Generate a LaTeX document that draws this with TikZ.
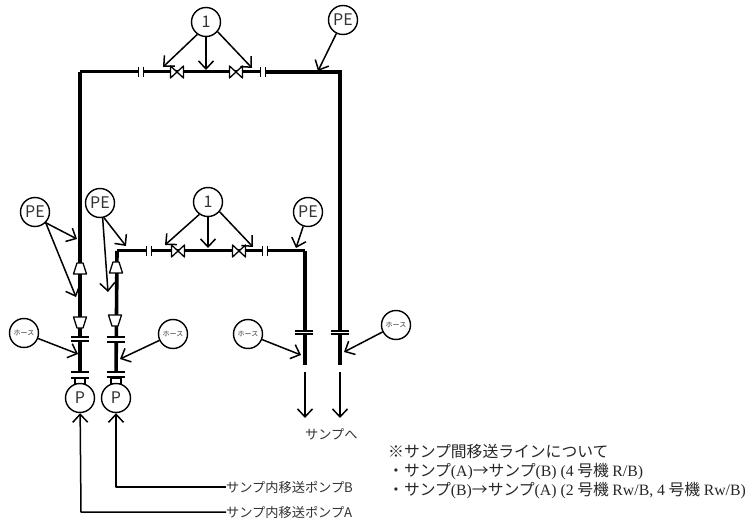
\documentclass[tikz,border=0pt]{standalone}
\usepackage{fontspec}
\setmainfont{Noto Sans CJK JP}
\newfontfamily\latinserif{Liberation Serif}
\usetikzlibrary{arrows.meta}
\tikzset{
	tag/.style={draw,circle,line width=1.4pt,fill=white,minimum size=29pt,inner sep=0pt,text=black!80},
	tagbig/.style={tag,font=\fontsize{16}{16}\selectfont},
	tagsmall/.style={tag,font=\fontsize{7}{7}\selectfont},
	barb/.tip={Straight Barb[length=8pt,width=15pt]},
	callout/.style={-barb,line width=1.5pt},
	pipe/.style={line width=3.6pt},
	pipethin/.style={line width=3pt},
	flowline/.style={line width=1.5pt},
	caption/.style={anchor=west,inner sep=0pt,text=black!80,font=\fontsize{13.2}{13}\selectfont},
	note/.style={anchor=west,inner sep=0pt,text=black!85,font=\fontsize{15.8}{16}\selectfont},
}
\newcommand{\valve}[2]{
	\draw[line width=1.3pt,fill=white,line join=round] (#1-6.5,#2-6)--(#1+6.5,#2+6)--(#1+6.5,#2-6)--(#1-6.5,#2+6)--cycle;
}
\newcommand{\flangev}[2]{
	\fill[white] (#1-2,#2-4)rectangle(#1+2,#2+4);
	\draw[line width=1.3pt] (#1-2.2,#2-5)--(#1-2.2,#2+5) (#1+2.2,#2-5)--(#1+2.2,#2+5);
}
\newcommand{\flangeh}[3]{
	\fill[white] (#1-8,#2)rectangle(#1+8,#3);
	\draw[line width=1.3pt] (#1-9,#2)--(#1+9,#2) (#1-9,#3)--(#1+9,#3);
}
\newcommand{\reducer}[4]{
	\draw[line width=1.3pt,fill=white,line join=round] (#1-#3,#2)--(#1+#3,#2)--(#1+#4,#2+11)--(#1-#4,#2+11)--cycle;
}
\begin{document}
\begin{tikzpicture}[x=1pt,y=-1pt,line join=round]
	\useasboundingbox (0,0) rectangle (752,521);
	% pipe runs
	\coordinate (topl) at (80,72);
	\coordinate (topm) at (264,72);
	\coordinate (topr) at (340,72);
	\coordinate (endr) at (340,365);
	\coordinate (pumpa) at (80,378);
	\coordinate (midl) at (117,251);
	\coordinate (midr) at (305,251);
	\coordinate (endl) at (305,365);
	\coordinate (pumpb) at (116,378);
	\draw[pipethin] (topl)--(topm);
	\draw[pipe,line join=miter] (topm)--(topr)--(endr);
	\draw[pipe] (topl)--(pumpa);
	\draw[pipethin] (midl)--(midr);
	\draw[pipe] (midr)--(endl);
	\draw[pipe] (midl)--(pumpb);
	% fittings
	\foreach \xv in {177,236} {\valve{\xv}{72}}
	\foreach \xv in {178,239} {\valve{\xv}{251}}
	\foreach \xf in {141,263} {\flangev{\xf}{72}}
	\foreach \xf in {149,265} {\flangev{\xf}{251}}
	\reducer{80}{263}{3}{6.5}
	\reducer{80}{317}{6.5}{3}
	\reducer{116}{262}{3}{6.5}
	\reducer{115}{315}{6.5}{3}
	\flangeh{80}{337}{341}
	\flangeh{116}{337}{342}
	\flangeh{304}{331}{334}
	\flangeh{340}{331}{334}
	\flangeh{80}{372}{378}
	\flangeh{115.5}{372}{377}
	% pump stubs
	\draw[line width=1.3pt] (75,378) rectangle (85,384);
	\draw[line width=1.3pt] (111,378) rectangle (121,384);
	% tags
	\node[tagbig] (valvetop) at (206,22) {1};
	\node[tagbig] (petop) at (343,20) {PE};
	\node[tagbig] (valvemid) at (208,202) {1};
	\node[tagbig] (pemid) at (308,212) {PE};
	\node[tagbig] (pea) at (35,212) {PE};
	\node[tagbig] (peb) at (100,203) {PE};
	\node[tagsmall] (hosea) at (24,333) {ホース};
	\node[tagsmall] (hoseb) at (173,334) {ホース};
	\node[tagsmall] (hosel) at (248,334) {ホース};
	\node[tagsmall] (hoser) at (396,325) {ホース};
	\node[tagbig] (pa) at (80,398) {P};
	\node[tagbig] (pb) at (116,398) {P};
	% callouts
	\coordinate (v1) at (163,67);
	\coordinate (v2) at (206,70);
	\coordinate (v3) at (252,68);
	\coordinate (v4) at (318,71);
	\coordinate (w1) at (165,245);
	\coordinate (w2) at (208,248);
	\coordinate (w3) at (253,247);
	\coordinate (w4) at (296,248);
	\coordinate (a1) at (77,239);
	\coordinate (a2) at (76,297);
	\coordinate (b1) at (126,246);
	\coordinate (b2) at (108,292);
	\coordinate (h1) at (78,354);
	\coordinate (h2) at (120,359);
	\coordinate (h3) at (301,355);
	\coordinate (h4) at (344,352);
	\draw[callout] (valvetop.-125)--(v1);
	\draw[callout] (valvetop)--(v2);
	\draw[callout] (valvetop.-40)--(v3);
	\draw[callout] (petop)--(v4);
	\draw[callout] (valvemid.-125)--(w1);
	\draw[callout] (valvemid)--(w2);
	\draw[callout] (valvemid.-40)--(w3);
	\draw[callout] (pemid)--(w4);
	\draw[callout] (pea.-45)--(a1);
	\draw[callout] (pea.-45)--(a2);
	\draw[callout] (peb.-75)--(b1);
	\draw[callout] (peb.-80)--(b2);
	\draw[callout] (hosea)--(h1);
	\draw[callout] (hoseb)--(h2);
	\draw[callout] (hosel)--(h3);
	\draw[callout] (hoser)--(h4);
	% flow to the sumps
	\coordinate (outl) at (305,372);
	\coordinate (outlend) at (305,418);
	\coordinate (outr) at (340,372);
	\coordinate (outrend) at (340,418);
	\draw[callout] (outl)--(outlend);
	\draw[callout] (outr)--(outrend);
	\node[caption] (sump) at (305,434) {サンプへ};
	% suction lines
	\node[caption] (captb) at (226,487) {サンプ内移送ポンプB};
	\node[caption] (capta) at (226,512) {サンプ内移送ポンプA};
	\coordinate (bendb) at (116,487);
	\coordinate (benda) at (81,512);
	\draw[flowline,barb-] (pb)--(bendb)--(captb);
	\draw[flowline,barb-] (pa)--(benda)--(capta);
	% note
	\node[note] (noteh) at (388,452) {※サンプ間移送ラインについて};
	\node[note] (notea) at (388,472) {・サンプ{\latinserif (A)}→サンプ{\latinserif (B) (4} 号機 {\latinserif R/B)}};
	\node[note] (noteb) at (388,491) {・サンプ{\latinserif (B)}→サンプ{\latinserif (A) (2} 号機 {\latinserif Rw/B, 4} 号機 {\latinserif Rw/B)}};
\end{tikzpicture}
\end{document}
